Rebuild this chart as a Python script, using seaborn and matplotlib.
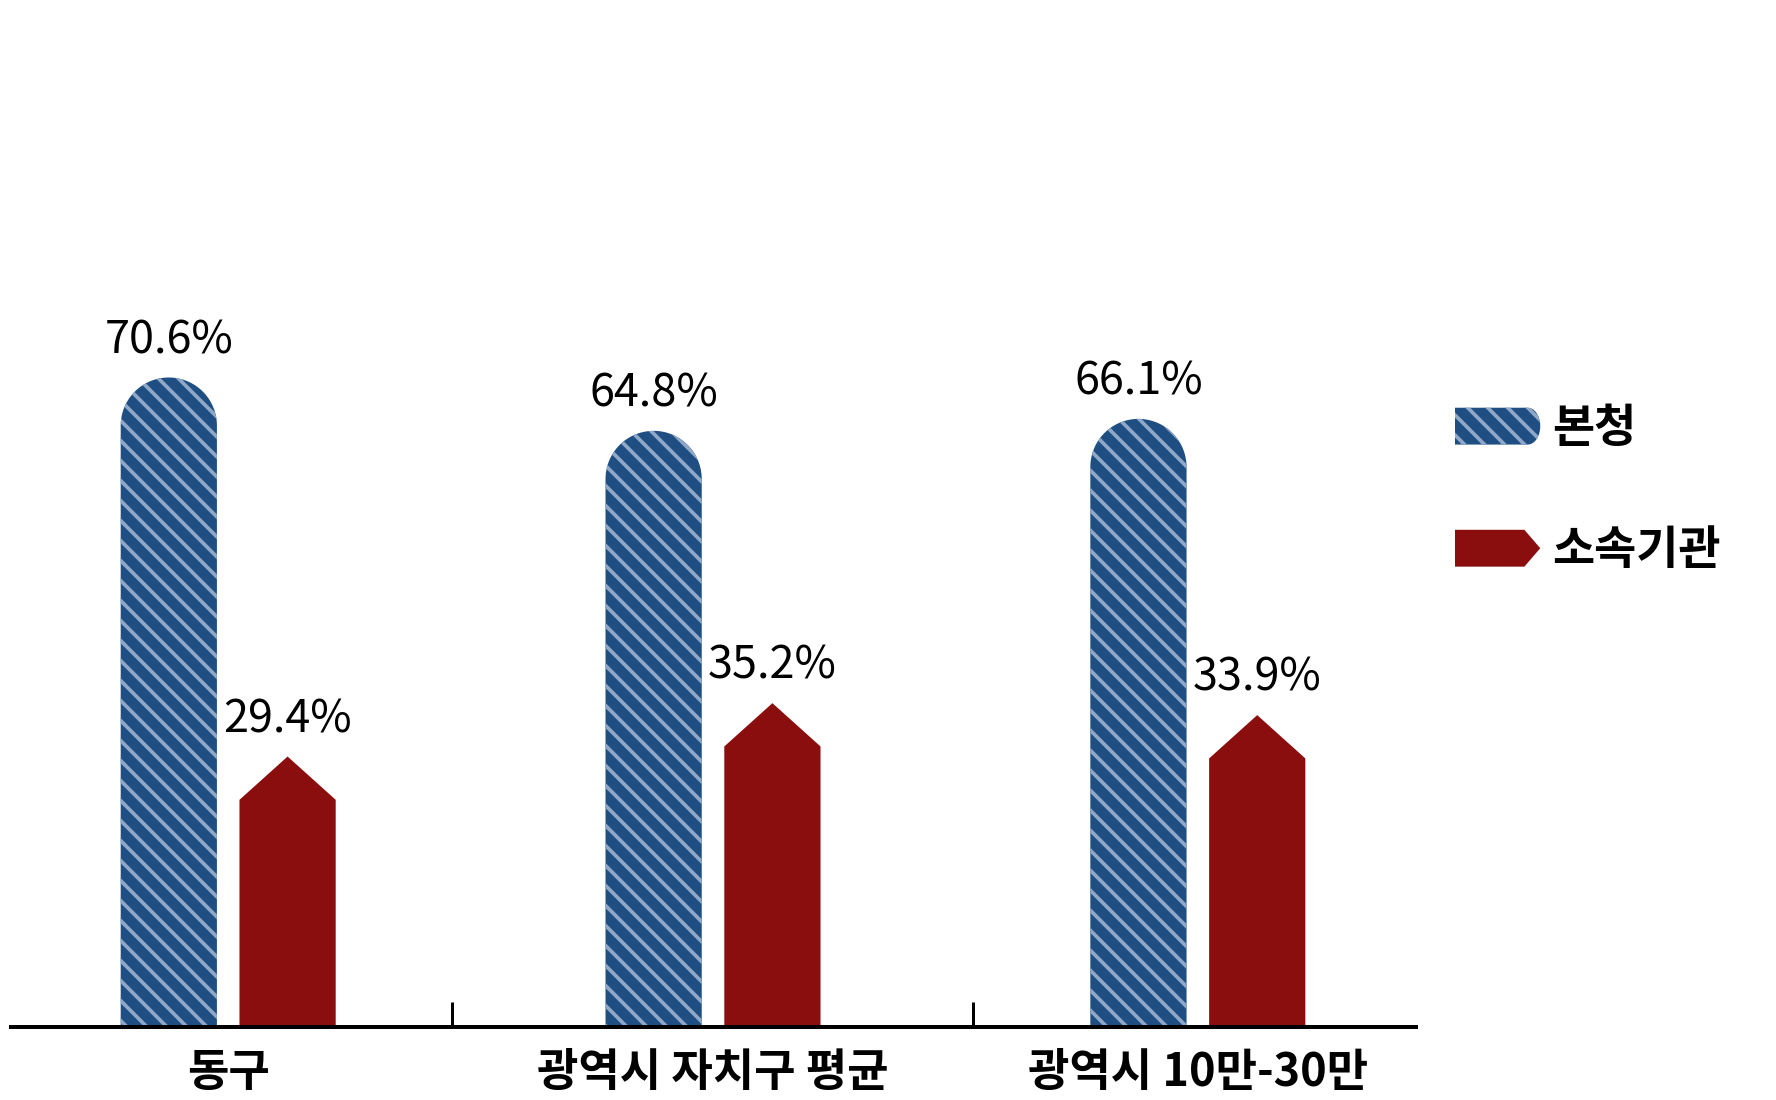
import numpy as np
import pandas as pd
import matplotlib
matplotlib.use("Agg")
import matplotlib.pyplot as plt
from matplotlib.patches import Polygon, Patch
from matplotlib.legend_handler import HandlerPatch
import seaborn as sns

# data
categories = ["동구", "광역시 자치구 평균", "광역시 10만-30만"]
series = ["본청", "소속기관"]
main_office = [70.6, 64.8, 66.1]
affiliated = [29.4, 35.2, 33.9]
separators = [0.461, 1.537]

blue = "#1F4F82"
stripe = "#8FA8C8"
red = "#8B0E0E"

sns.set_theme(style="white")
plt.rcParams["font.family"] = ["Noto Sans CJK KR", "DejaVu Sans"]
plt.rcParams["hatch.linewidth"] = 2.2
plt.rcParams["hatch.color"] = stripe
plt.rcParams["text.color"] = "black"
plt.rcParams["xtick.color"] = "black"
plt.rcParams["xtick.labelcolor"] = "black"

df = pd.DataFrame({
	"region": categories * 2,
	"office": [series[0]] * len(categories) + [series[1]] * len(categories),
	"share": main_office + affiliated,
})

fig = plt.figure(figsize=(1776 / 120, 1100 / 120), dpi=120)
ax = fig.add_axes([11 / 1776, 73 / 1100, 1405 / 1776, 920 / 1100])
sns.barplot(data=df, x="region", y="share", hue="office", order=categories,
	hue_order=series, palette=[blue, red], width=0.49, gap=0.19,
	errorbar=None, legend=False, ax=ax)
ax.set_xlim(-0.448, 2.45)
ax.set_ylim(0, 100)

# pixels per data unit, to keep the dome round
p0, p1 = ax.transData.transform([(0, 0), (1, 1)])
sx, sy = p1 - p0


def dome(x0, w, v):
	rx = w / 2
	ry = rx * sx / sy
	t = np.linspace(np.pi, 0, 60)
	xs = [x0] + list(x0 + rx + rx * np.cos(t)) + [x0 + w]
	ys = [0] + list(v - ry + ry * np.sin(t)) + [0]
	return np.column_stack([xs, ys])


def arrow(x0, w, v):
	ah = 0.9 * (w / 2) * sx / sy
	return np.array([(x0, 0), (x0, v - ah), (x0 + w / 2, v), (x0 + w, v - ah), (x0 + w, 0)])


for cont, kind in zip(ax.containers, ["dome", "arrow"]):
	for rect in list(cont):
		x0, w, v = rect.get_x(), rect.get_width(), rect.get_height()
		if kind == "dome":
			shape = Polygon(dome(x0, w, v), closed=True, facecolor=blue,
				edgecolor=stripe, hatch="\\\\", linewidth=0)
		else:
			shape = Polygon(arrow(x0, w, v), closed=True, facecolor=red,
				edgecolor="none", linewidth=0)
		ax.add_patch(shape)
		rect.remove()
		ax.annotate(f"{v:.1f}%", (x0 + w / 2, v), xytext=(0, 14.5),
			textcoords="offset points", ha="center", va="baseline",
			fontsize=27, fontweight="medium")

ax.set_xticks(range(len(categories)))
ax.set_xticklabels(categories, fontsize=27, fontweight="bold")
ax.tick_params(axis="x", which="major", length=0, pad=14)
ax.set_xticks(separators, minor=True)
ax.tick_params(axis="x", which="minor", direction="in", length=15, width=1.8,
	color="black", bottom=True)
ax.set_yticks([])
ax.set_xlabel("")
ax.set_ylabel("")
for s in ["top", "right", "left"]:
	ax.spines[s].set_visible(False)
ax.spines["bottom"].set_linewidth(2.4)
ax.spines["bottom"].set_color("black")


def dome_handle(legend, orig_handle, xdescent, ydescent, width, height, fontsize):
	x0, y0 = -xdescent, -ydescent
	rx, ry = 0.34 * height, height / 2
	t = np.linspace(-np.pi / 2, np.pi / 2, 30)
	xy = [(x0, y0)] + list(zip(x0 + width - rx + rx * np.cos(t), y0 + ry + ry * np.sin(t))) + [(x0, y0 + height)]
	return Polygon(xy, closed=True)


def arrow_handle(legend, orig_handle, xdescent, ydescent, width, height, fontsize):
	x0, y0 = -xdescent, -ydescent
	tip = 0.43 * height
	xy = [(x0, y0), (x0 + width - tip, y0), (x0 + width, y0 + height / 2),
		(x0 + width - tip, y0 + height), (x0, y0 + height)]
	return Polygon(xy, closed=True)


h_main = Patch(facecolor=blue, edgecolor=stripe, hatch="\\\\", linewidth=0)
h_aff = Patch(facecolor=red, edgecolor="none", linewidth=0)
fig.legend([h_main, h_aff], series, loc="upper left",
	bbox_to_anchor=(1455 / 1776, 1 - 406 / 1100), frameon=False,
	prop={"size": 27.5, "weight": "bold"}, handlelength=1.86, handleheight=0.86,
	handletextpad=0.25, labelspacing=1.66, borderpad=0, borderaxespad=0,
	handler_map={h_main: HandlerPatch(patch_func=dome_handle),
		h_aff: HandlerPatch(patch_func=arrow_handle)})

fig.savefig("out.png", dpi=120)
